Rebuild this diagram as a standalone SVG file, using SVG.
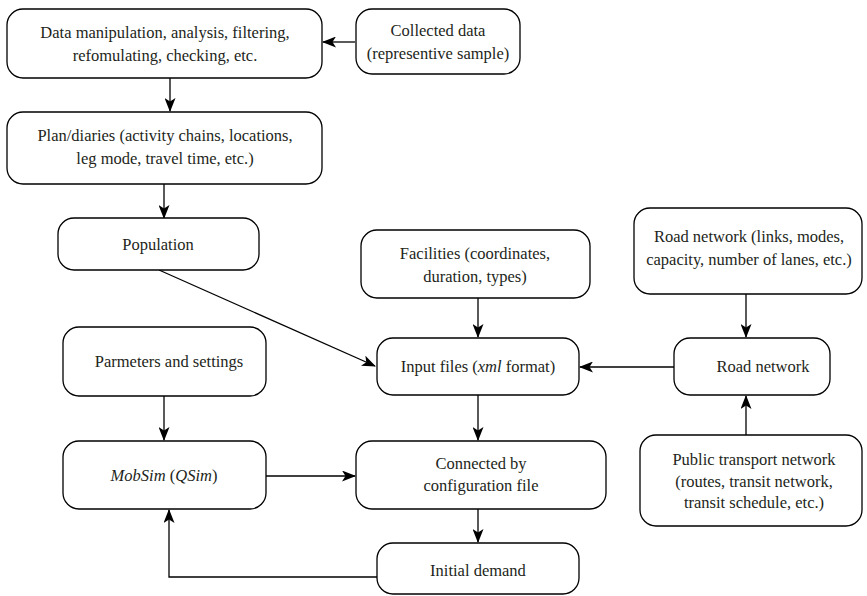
<svg xmlns="http://www.w3.org/2000/svg" width="867" height="596" viewBox="0 0 867 596">
<defs>
<marker id="a" viewBox="0 0 14 11" refX="13" refY="5.5" markerWidth="14" markerHeight="11" markerUnits="userSpaceOnUse" orient="auto">
<path d="M0,0 L14,5.5 L0,11 L3.5,5.5 Z" fill="#000"/>
</marker>
</defs>
<rect width="867" height="596" fill="#fff"/>
<g id="connectors" fill="none" stroke="#000" stroke-width="1.3" marker-end="url(#a)">
<path d="M355,42 H323"/>
<path d="M170,78 V111"/>
<path d="M164,184 V218"/>
<path d="M159,270 L375,366"/>
<path d="M478,298 V337"/>
<path d="M746,294 V337"/>
<path d="M674,367 H580"/>
<path d="M746,435 V396"/>
<path d="M478,395 V440"/>
<path d="M164,396 V440"/>
<path d="M266,476 H355"/>
<path d="M478,509 V542"/>
<path d="M377,577 H169 V510"/>
</g>
<g id="nodes">
<g id="boxes" fill="#fff" stroke="#000" stroke-width="1.3">
<rect id="data-box" x="7" y="9" width="315" height="69" rx="16"/>
<rect id="collected-box" x="356" y="9" width="164" height="65" rx="16"/>
<rect id="plan-box" x="7" y="112" width="315" height="72" rx="16"/>
<rect id="population-box" x="58" y="218" width="201" height="52" rx="16"/>
<rect id="facilities-box" x="361" y="230" width="229" height="68" rx="16"/>
<rect id="roadnet-desc-box" x="634" y="208" width="228" height="86" rx="16"/>
<rect id="params-box" x="63" y="327" width="203" height="69" rx="16"/>
<rect id="input-box" x="377" y="338" width="202" height="57" rx="16"/>
<rect id="road-box" x="674" y="338" width="156" height="57" rx="16"/>
<rect id="mobsim-box" x="63" y="441" width="203" height="68" rx="16"/>
<rect id="connected-box" x="356" y="441" width="250" height="68" rx="16"/>
<rect id="public-box" x="640" y="435" width="222" height="91" rx="16"/>
<rect id="initial-box" x="377" y="543" width="202" height="51" rx="16"/>
</g>
<g id="labels" font-family="Liberation Serif, Times New Roman, serif" font-size="16.5" fill="#231f20" text-anchor="middle">
<g id="data">
<text x="165" y="38">Data manipulation, analysis, filtering,</text>
<text x="165" y="61">refomulating, checking, etc.</text>
</g>
<g id="collected">
<text x="438" y="36">Collected data</text>
<text x="438" y="59">(representive sample)</text>
</g>
<g id="plan">
<text x="165" y="141">Plan/diaries (activity chains, locations,</text>
<text x="165" y="164">leg mode, travel time, etc.)</text>
</g>
<g id="population">
<text x="158" y="250">Population</text>
</g>
<g id="facilities">
<text x="475" y="259">Facilities (coordinates,</text>
<text x="475" y="282">duration, types)</text>
</g>
<g id="roadnet-desc">
<text x="749" y="242">Road network (links, modes,</text>
<text x="749" y="265">capacity, number of lanes, etc.)</text>
</g>
<g id="params">
<text x="169" y="367">Parmeters and settings</text>
</g>
<g id="input">
<text x="478" y="372">Input files (<tspan font-style="italic">xml</tspan> format)</text>
</g>
<g id="road">
<text x="763" y="372">Road network</text>
</g>
<g id="mobsim">
<text x="164" y="481"><tspan font-style="italic">MobSim</tspan> (<tspan font-style="italic">QSim</tspan>)</text>
</g>
<g id="connected">
<text x="481" y="469">Connected by</text>
<text x="481" y="491">configuration file</text>
</g>
<g id="public">
<text x="754" y="465">Public transport network</text>
<text x="754" y="487">(routes, transit network,</text>
<text x="754" y="508">transit schedule, etc.)</text>
</g>
<g id="initial">
<text x="478" y="576">Initial demand</text>
</g>
</g>
</g>
</svg>
